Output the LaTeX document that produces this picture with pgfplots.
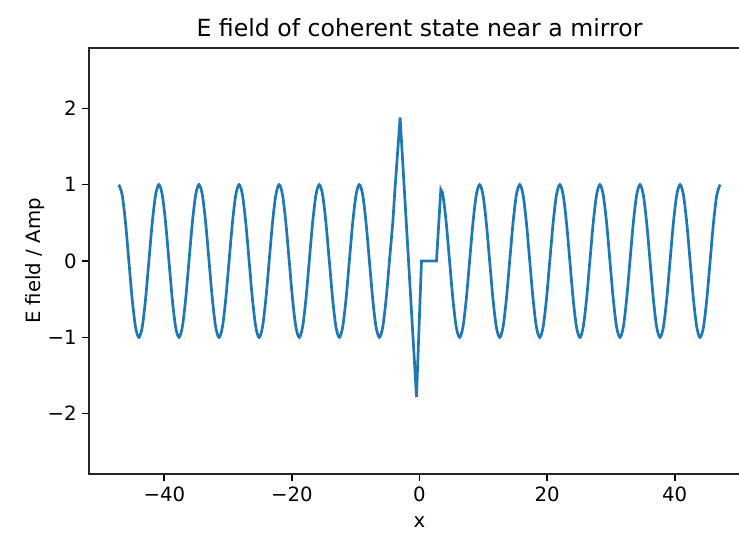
\documentclass[border=0pt]{standalone}
\usepackage{pgfplots}
\pgfplotsset{compat=1.18}
\usepackage{fontspec}
\setmainfont{DejaVu Sans}
\definecolor{mplblue}{HTML}{1F77B4}

\begin{document}
\begin{tikzpicture}[x=1pt,y=1pt]
\begin{axis}[
    at={(89pt,60pt)}, anchor=south west,
    scale only axis,
    width=661pt, height=426pt,
    xmin=-51.8, xmax=51.8,
    ymin=-2.79, ymax=2.79,
    xtick={-40,-20,0,20,40},
    xticklabels={−40,−20,0,20,40},
    ytick={-2,-1,0,1,2},
    yticklabels={−2,−1,0,1,2},
    tick align=outside,
    xtick pos=bottom, ytick pos=left,
    major tick length=6.9pt,
    every tick/.style={black, line width=1.6pt},
    axis line style={line width=1.6pt, black!85},
    ticklabel style={font=\fontsize{19.7}{23}\selectfont},
    xticklabel style={yshift=-2pt},
    yticklabel style={xshift=-2pt},
    title={E field of coherent state near a mirror},
    title style={font=\fontsize{23.6}{28}\selectfont, yshift=2pt},
    xlabel={x},
    ylabel={E field / Amp},
    label style={font=\fontsize{19.7}{23}\selectfont},
    xlabel style={yshift=-9pt},
    ylabel style={yshift=-4pt},
]
% regular wave left of the mirror
\addplot[mplblue, line width=2.7pt, smooth, tension=0.5] coordinates {
(-47.124,1) (-46.600,0.866) (-46.077,0.5) (-45.553,0) (-45.029,-0.5) (-44.506,-0.866)
(-43.982,-1) (-43.458,-0.866) (-42.935,-0.5) (-42.411,0) (-41.888,0.5) (-41.364,0.866)
(-40.841,1) (-40.317,0.866) (-39.794,0.5) (-39.270,0) (-38.746,-0.5) (-38.223,-0.866)
(-37.699,-1) (-37.175,-0.866) (-36.652,-0.5) (-36.128,0) (-35.605,0.5) (-35.081,0.866)
(-34.558,1) (-34.034,0.866) (-33.510,0.5) (-32.987,0) (-32.463,-0.5) (-31.940,-0.866)
(-31.416,-1) (-30.892,-0.866) (-30.369,-0.5) (-29.845,0) (-29.322,0.5) (-28.798,0.866)
(-28.274,1) (-27.751,0.866) (-27.227,0.5) (-26.704,0) (-26.180,-0.5) (-25.656,-0.866)
(-25.133,-1) (-24.609,-0.866) (-24.086,-0.5) (-23.562,0) (-23.038,0.5) (-22.515,0.866)
(-21.991,1) (-21.468,0.866) (-20.944,0.5) (-20.420,0) (-19.897,-0.5) (-19.373,-0.866)
(-18.850,-1) (-18.326,-0.866) (-17.802,-0.5) (-17.279,0) (-16.755,0.5) (-16.232,0.866)
(-15.708,1) (-15.184,0.866) (-14.661,0.5) (-14.137,0) (-13.614,-0.5) (-13.090,-0.866)
(-12.566,-1) (-12.043,-0.866) (-11.519,-0.5) (-10.996,0) (-10.472,0.5) (-9.948,0.866)
(-9.425,1) (-8.901,0.866) (-8.378,0.5) (-7.854,0) (-7.330,-0.5) (-6.807,-0.866)
(-6.283,-1) (-5.760,-0.866) (-5.236,-0.5) (-4.712,0) (-4.189,0.5)
};
% spike and the field inside the mirror
\addplot[mplblue, line width=2.7pt] coordinates {
(-4.189,0.5) (-3.87,0.91) (-3.04,1.88) (-0.47,-1.78) (0.31,0) (2.66,0) (3.34,0.93) (3.665,0.866)
};
% regular wave right of the mirror
\addplot[mplblue, line width=2.7pt, smooth, tension=0.5] coordinates {
(3.34,0.93) (3.665,0.866) (4.189,0.5) (4.712,0) (5.236,-0.5) (5.760,-0.866)
(6.283,-1) (6.807,-0.866) (7.330,-0.5) (7.854,0) (8.378,0.5) (8.901,0.866)
(9.425,1) (9.948,0.866) (10.472,0.5) (10.996,0) (11.519,-0.5) (12.043,-0.866)
(12.566,-1) (13.090,-0.866) (13.614,-0.5) (14.137,0) (14.661,0.5) (15.184,0.866)
(15.708,1) (16.232,0.866) (16.755,0.5) (17.279,0) (17.802,-0.5) (18.326,-0.866)
(18.850,-1) (19.373,-0.866) (19.897,-0.5) (20.420,0) (20.944,0.5) (21.468,0.866)
(21.991,1) (22.515,0.866) (23.038,0.5) (23.562,0) (24.086,-0.5) (24.609,-0.866)
(25.133,-1) (25.656,-0.866) (26.180,-0.5) (26.704,0) (27.227,0.5) (27.751,0.866)
(28.274,1) (28.798,0.866) (29.322,0.5) (29.845,0) (30.369,-0.5) (30.892,-0.866)
(31.416,-1) (31.940,-0.866) (32.463,-0.5) (32.987,0) (33.510,0.5) (34.034,0.866)
(34.558,1) (35.081,0.866) (35.605,0.5) (36.128,0) (36.652,-0.5) (37.175,-0.866)
(37.699,-1) (38.223,-0.866) (38.746,-0.5) (39.270,0) (39.794,0.5) (40.317,0.866)
(40.841,1) (41.364,0.866) (41.888,0.5) (42.411,0) (42.935,-0.5) (43.458,-0.866)
(43.982,-1) (44.506,-0.866) (45.029,-0.5) (45.553,0) (46.077,0.5) (46.600,0.866)
(47.124,1)
};
\end{axis}
\pgfresetboundingbox
\useasboundingbox (0,0) rectangle (739pt,534pt);
\end{tikzpicture}
\end{document}
